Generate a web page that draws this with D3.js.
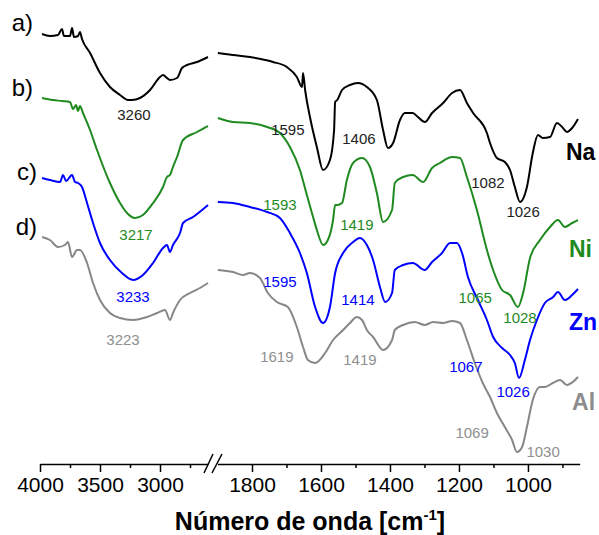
<!DOCTYPE html>
<html><head><meta charset="utf-8">
<script src="https://cdn.jsdelivr.net/npm/d3@7"></script>
<style>body{margin:0;background:#fff}svg{display:block;font-family:"Liberation Sans",Arial,sans-serif}</style>
</head><body><svg id="c" width="599" height="535"></svg>
<script>
// ---- data: [wavenumber cm-1, intensity a.u. (offset)] ----
const naLeft=[[3983,430],[3917,428],[3850,429],[3817,435],[3800,428],[3750,428],[3733,436],[3717,427],[3683,428],[3667,432],[3650,425],[3583,411],[3500,391],[3417,377],[3333,369],[3267,364],[3233,364],[3167,366],[3083,374],[3000,387],[2975,389],[2942,386],[2917,384],[2858,386],[2817,396],[2775,399],[2692,402],[2600,407]];
const naRight=[[1899,411],[1855,409],[1806,407],[1762,404],[1739,402],[1699,397],[1670,387],[1655,377],[1652,391],[1646,374],[1632,347],[1612,317],[1594,294],[1574,304],[1562,334],[1559,362],[1553,364],[1539,374],[1516,379],[1493,381],[1467,377],[1438,364],[1420,334],[1406,316],[1391,321],[1371,344],[1357,351],[1334,351],[1319,347],[1299,342],[1278,351],[1246,361],[1220,371],[1197,374],[1177,361],[1159,351],[1119,331],[1110,321],[1090,306],[1067,302],[1052,294],[1038,277],[1023,262],[1003,277],[986,311],[971,329],[957,326],[936,327],[916,341],[901,337],[887,332],[872,336],[855,345]];
const niLeft=[[3983,366],[3892,364],[3817,363],[3750,362],[3725,355],[3700,359],[3683,353],[3667,358],[3642,351],[3583,334],[3525,314],[3417,281],[3333,261],[3275,251],[3208,246],[3142,249],[3058,261],[2975,277],[2942,287],[2917,289],[2892,297],[2858,307],[2808,324],[2692,332],[2600,338]];
const niRight=[[1899,346],[1855,342],[1806,341],[1756,337],[1719,331],[1690,317],[1661,294],[1641,269],[1623,247],[1612,234],[1594,219],[1580,224],[1565,244],[1559,259],[1553,259],[1539,261],[1525,284],[1507,301],[1481,306],[1458,297],[1438,271],[1420,242],[1394,254],[1386,281],[1362,287],[1334,289],[1304,282],[1278,296],[1255,301],[1220,307],[1197,306],[1177,287],[1148,254],[1119,214],[1101,194],[1075,174],[1052,169],[1029,157],[1014,171],[994,206],[965,224],[936,237],[913,244],[893,237],[872,241],[855,244]];
const znLeft=[[3983,286],[3917,284],[3833,282],[3808,289],[3783,283],[3733,289],[3708,282],[3683,281],[3650,277],[3608,261],[3558,241],[3500,221],[3417,204],[3317,191],[3225,184],[3142,189],[3058,201],[2975,216],[2942,219],[2917,212],[2892,219],[2833,231],[2808,241],[2725,247],[2600,259]];
const znRight=[[1899,262],[1855,261],[1806,257],[1756,252],[1719,246],[1690,231],[1661,211],[1641,191],[1617,157],[1594,141],[1574,157],[1559,191],[1536,211],[1507,222],[1487,226],[1467,219],[1449,204],[1429,177],[1414,162],[1394,171],[1386,194],[1362,199],[1334,201],[1299,194],[1278,202],[1249,211],[1226,221],[1206,221],[1191,211],[1174,187],[1145,164],[1119,144],[1101,127],[1075,116],[1052,109],[1038,101],[1026,86],[1009,104],[994,124],[974,144],[951,161],[927,167],[913,172],[893,164],[872,169],[855,175]];
const alLeft=[[3983,227],[3917,224],[3850,217],[3792,219],[3767,222],[3733,207],[3692,214],[3667,214],[3608,201],[3558,181],[3500,164],[3417,151],[3333,146],[3225,144],[3108,147],[3025,151],[2958,154],[2917,144],[2892,151],[2833,164],[2750,171],[2667,176],[2600,181]];
const alRight=[[1899,194],[1855,192],[1826,189],[1806,191],[1777,186],[1754,171],[1728,162],[1696,157],[1670,137],[1652,117],[1638,104],[1617,101],[1588,111],[1565,124],[1536,134],[1516,141],[1496,147],[1481,144],[1467,134],[1449,127],[1420,114],[1394,124],[1386,134],[1362,139],[1328,142],[1299,139],[1275,142],[1246,141],[1220,143],[1197,141],[1177,124],[1154,101],[1131,81],[1110,67],[1090,51],[1067,37],[1046,24],[1032,12],[1017,17],[1003,37],[986,64],[965,77],[951,77],[928,81],[907,84],[887,79],[870,82],[855,87]];

const leftMajor=[4000,3500,3000], leftMinor=[3750,3250,2750];
const rightMajor=[1800,1600,1400,1200,1000], rightMinor=[1700,1500,1300,1100,900];

const seriesNames=["Na","Ni","Zn","Al"];
const seriesLetters=["a)","b)","c)","d)"];
const seriesColors=["#000000","#1f8a1f","#0000ff","#878787"];
const labelColors=["#222222","#1f8a1f","#0000ff","#8f8f8f"];
// peak labels: [series index, text, segment, wavenumber, value]
const peakLabels=[
 [0,"3260","L",3217,344],[1,"3217","L",3200,224],[2,"3233","L",3225,162],[3,"3223","L",3308,119],
 [0,"1595","R",1696,329],[0,"1406","R",1490,320],[0,"1082","R",1116,276],[0,"1026","R",1014,247],
 [1,"1593","R",1719,254],[1,"1419","R",1496,234],[1,"1065","R",1153,161],[1,"1028","R",1023,141],
 [2,"1595","R",1719,177],[2,"1414","R",1493,159],[2,"1067","R",1180,92],[2,"1026","R",1043,67],
 [3,"1619","R",1728,102],[3,"1419","R",1487,99],[3,"1069","R",1162,26],[3,"1030","R",956,7]
];
// series name positions [wavenumber, value]
const namePos=[[890,304],[881,207],[881,134],[872,54]];
const letterPos=[[4058,433],[4058,368],[4025,284],[4025,229]];

const svg=d3.select("#c");
const xL=d3.scaleLinear().domain([4000,2600]).range([40,208]);
const xR=d3.scaleLinear().domain([1900,850]).range([217.5,579.7]);
const y=d3.scaleLinear().domain([0,444]).range([464,20]);

const left=[naLeft,niLeft,znLeft,alLeft], right=[naRight,niRight,znRight,alRight];
const lineL=d3.line().x(d=>xL(d[0])).y(d=>y(d[1])).curve(d3.curveMonotoneX);
const lineR=d3.line().x(d=>xR(d[0])).y(d=>y(d[1])).curve(d3.curveMonotoneX);
for(let i=3;i>=0;i--){
  svg.append("path").attr("d",lineL(left[i])).attr("fill","none").attr("stroke",seriesColors[i]).attr("stroke-width",2).attr("stroke-linejoin","round");
  svg.append("path").attr("d",lineR(right[i])).attr("fill","none").attr("stroke",seriesColors[i]).attr("stroke-width",2).attr("stroke-linejoin","round");
}

// axes
const axY=464;
function drawAxis(scale,major,minor){
  const g=svg.append("g").attr("transform",`translate(0,${axY})`);
  g.call(d3.axisBottom(scale).tickValues(major).tickSize(8).tickSizeOuter(0).tickPadding(5).tickFormat(d3.format("d")));
  g.select(".domain").attr("stroke-width",1.6);
  g.selectAll(".tick line").attr("stroke-width",1.5);
  g.selectAll(".tick text").attr("font-size",21).attr("font-family","Liberation Sans, Arial, sans-serif").attr("fill","#000");
  const g2=svg.append("g").attr("transform",`translate(0,${axY})`);
  g2.call(d3.axisBottom(scale).tickValues(minor).tickSize(4).tickFormat(""));
  g2.select(".domain").remove();
  g2.selectAll(".tick line").attr("stroke-width",1.5);
}
drawAxis(xL,leftMajor,leftMinor);
drawAxis(xR,rightMajor,rightMinor);
// break marks
[[204,473,213,454],[212,473,222,454]].forEach(s=>svg.append("line").attr("x1",s[0]).attr("y1",s[1]).attr("x2",s[2]).attr("y2",s[3]).attr("stroke","#000").attr("stroke-width",1.5));

// title
const t=svg.append("text").attr("x",310).attr("y",530).attr("text-anchor","middle").attr("font-size",25).attr("font-weight","bold");
t.append("tspan").text("Número de onda [cm");
t.append("tspan").text("-1").attr("font-size",15).attr("dy",-10);
t.append("tspan").text("]").attr("dy",10);

// peak labels
peakLabels.forEach(p=>{
  const sx=p[2]==="L"?xL:xR;
  svg.append("text").attr("x",sx(p[3])).attr("y",y(p[4])).attr("text-anchor","middle").attr("font-size",15).attr("fill",labelColors[p[0]]).text(p[1]);
});
// series names
namePos.forEach((p,i)=>svg.append("text").attr("x",xR(p[0])).attr("y",y(p[1])).attr("font-size",23).attr("font-weight","bold").attr("fill",i===3?"#8c8c8c":seriesColors[i]).text(seriesNames[i]));
// letters
letterPos.forEach((p,i)=>svg.append("text").attr("x",xL(p[0])).attr("y",y(p[1])).attr("text-anchor","end").attr("font-size",24).attr("fill","#000").text(seriesLetters[i]));
</script></body></html>
